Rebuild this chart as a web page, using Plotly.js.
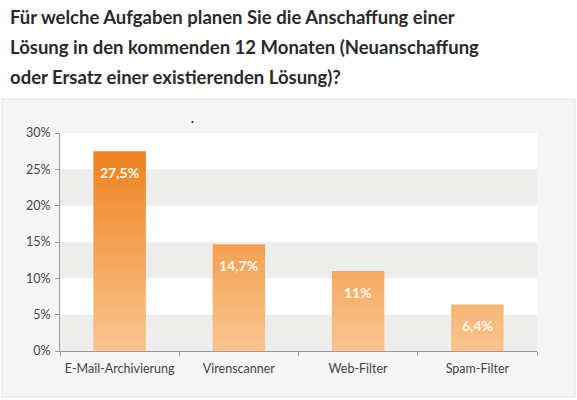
<!DOCTYPE html>
<html>
<head>
<meta charset="utf-8">
<script src="https://cdn.plot.ly/plotly-3.1.2.min.js"></script>
<style>
  html, body { margin: 0; padding: 0; background: #fff; }
  #chart { width: 577px; height: 400px; }
</style>
</head>
<body>
<div id="chart"></div>
<script>
const categories = ["E-Mail-Archivierung", "Virenscanner", "Web-Filter", "Spam-Filter"];
const shares = [27.5, 14.7, 11, 6.4];
const shareLabels = ["27,5%", "14,7%", "11%", "6,4%"];
const yTicks = [0, 5, 10, 15, 20, 25, 30];
const titleLines = [
  "Für welche Aufgaben planen Sie die Anschaffung einer",
  "Lösung in den kommenden 12 Monaten (Neuanschaffung",
  "oder Ersatz einer existierenden Lösung)?",
];

// plot area in pixels: x 60..537, y 133..351
const PLOT_TOP = 133, PLOT_BOTTOM = 351, PLOT_LEFT = 60, PLOT_W = 477;
const pyToPaper = (py) => (PLOT_BOTTOM - py) / (PLOT_BOTTOM - PLOT_TOP);
const pxToPaper = (px) => (px - PLOT_LEFT) / PLOT_W;

// grey bands every other 5% step
const bands = [];
for (let i = 0; i < yTicks.length - 1; i += 2) {
  bands.push({
    type: "rect", xref: "paper", yref: "y", layer: "below",
    x0: 0, x1: 1, y0: yTicks[i], y1: yTicks[i + 1],
    fillcolor: "#ededeb", line: { width: 0 },
  });
}

const barTrace = {
  type: "bar",
  x: categories,
  y: shares,
  width: 0.44,
  marker: { color: "#f3a250", line: { width: 0 } },
  hoverinfo: "skip",
};

const labelNotes = categories.map((cat, i) => ({
  x: cat, y: shares[i], xref: "x", yref: "y",
  text: shareLabels[i], showarrow: false, yshift: -21,
  font: { family: "Lato, sans-serif", size: 14, color: "#fff6ea", weight: "bold" },
}));

const titleNotes = titleLines.map((line, i) => ({
  xref: "paper", yref: "paper",
  x: pxToPaper(8), y: pyToPaper(17 + 30 * i),
  xanchor: "left", yanchor: "middle",
  text: line, showarrow: false,
  font: { family: "Lato, sans-serif", size: 18.5, color: "#2a2a2a", weight: "bold" },
}));

const layout = {
  width: 577,
  height: 400,
  margin: { l: 60, r: 40, t: 133, b: 49 },
  paper_bgcolor: "#ffffff",
  plot_bgcolor: "rgba(0,0,0,0)",
  font: { family: "Lato, sans-serif", color: "#444" },
  showlegend: false,
  xaxis: {
    type: "category",
    showgrid: false,
    showline: true, linecolor: "#999", linewidth: 1,
    ticks: "outside", tickson: "boundaries", ticklen: 4, tickcolor: "#999",
    ticklabelstandoff: 6,
    tickangle: 0,
    tickfont: { size: 12.5, color: "#444" },
    fixedrange: true,
  },
  yaxis: {
    range: [0, 30],
    tickvals: yTicks,
    ticktext: yTicks.map((t) => t + "%"),
    showgrid: false, zeroline: false,
    showline: true, linecolor: "#999", linewidth: 1,
    ticks: "outside", ticklen: 4, tickcolor: "#999",
    ticklabelstandoff: 2,
    tickfont: { size: 12.5, color: "#444" },
    fixedrange: true,
  },
  shapes: [
    // light grey panel behind the chart
    {
      type: "rect", xref: "paper", yref: "paper", layer: "below",
      x0: pxToPaper(2), x1: pxToPaper(575), y0: pyToPaper(397), y1: pyToPaper(99),
      fillcolor: "#f5f5f5", line: { color: "#e2e2e2", width: 1 },
    },
    {
      type: "rect", xref: "paper", yref: "paper", layer: "below",
      x0: 0, x1: 1, y0: 0, y1: 1,
      fillcolor: "#ffffff", line: { width: 0 },
    },
    ...bands,
  ],
  annotations: [
    ...titleNotes,
    ...labelNotes,
    {
      xref: "paper", yref: "paper", x: pxToPaper(189), y: pyToPaper(117),
      text: "•", showarrow: false, font: { size: 5, color: "#222" },
    },
  ],
};

Plotly.newPlot("chart", [barTrace], layout, { staticPlot: true }).then((gd) => {
  // vertical orange gradient shared by all bars (darker at the top)
  const ya = gd._fullLayout.yaxis;
  const svg = gd.querySelector(".main-svg");
  const ns = "http://www.w3.org/2000/svg";
  let defs = svg.querySelector("defs");
  if (!defs) { defs = document.createElementNS(ns, "defs"); svg.prepend(defs); }
  const grad = document.createElementNS(ns, "linearGradient");
  grad.setAttribute("id", "barGrad");
  grad.setAttribute("gradientUnits", "userSpaceOnUse");
  grad.setAttribute("x1", 0); grad.setAttribute("x2", 0);
  grad.setAttribute("y1", ya.l2p(Math.max(...shares)));
  grad.setAttribute("y2", ya.l2p(0));
  [["0", "#ee8220"], ["1", "#f9c58e"]].forEach(([off, col]) => {
    const stop = document.createElementNS(ns, "stop");
    stop.setAttribute("offset", off);
    stop.setAttribute("stop-color", col);
    grad.appendChild(stop);
  });
  defs.appendChild(grad);
  gd.querySelectorAll(".bars .point path").forEach((p) => {
    p.style.fill = "url(#barGrad)";
  });
});
</script>
</body>
</html>
